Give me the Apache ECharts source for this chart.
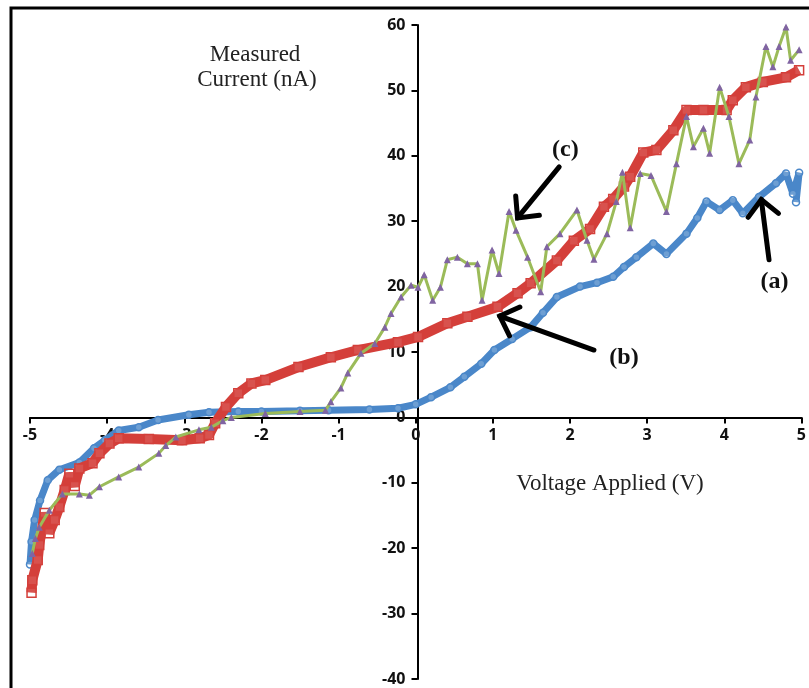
<!DOCTYPE html>
<html>
<head>
<meta charset="utf-8">
<script src="https://cdn.jsdelivr.net/npm/echarts@6/dist/echarts.min.js"></script>
<style>
html,body{margin:0;padding:0;background:#fff;}
#chart{width:809px;height:688px;}
</style>
</head>
<body>
<div id="chart"></div>
<script>
// (a) blue circles
var seriesA = [[-5.0,-22.5],[-4.98,-19],[-4.94,-15.7],[-4.87,-12.7],[-4.77,-9.6],[-4.62,-8],[-4.36,-6.9],[-4.17,-4.7],[-4.03,-3.5],[-3.85,-2],[-3.59,-1.5],[-3.34,-0.4],[-2.94,0.4],[-2.68,0.8],[-2.3,0.9],[-2.0,0.9],[-1.5,1.0],[-1.13,1.1],[-0.6,1.2],[-0.23,1.4],[0,2.0],[0.2,3.1],[0.45,4.6],[0.63,6.2],[0.85,8.2],[1.02,10.3],[1.25,12],[1.49,13.8],[1.65,16],[1.83,18.4],[2.13,20],[2.35,20.6],[2.56,21.5],[2.7,23],[2.86,24.5],[3.08,26.6],[3.25,25],[3.51,28.1],[3.65,30.5],[3.77,33],[3.94,31.7],[4.11,33.2],[4.24,31.2],[4.45,33.7],[4.67,35.8],[4.8,37.3],[4.89,34.2],[4.97,37.4],[4.93,32.9]];
// (b) red squares
var seriesB = [[-4.98,-26.8],[-4.97,-24.9],[-4.9,-21.8],[-4.88,-19.5],[-4.81,-14.6],[-4.75,-17.7],[-4.68,-15.7],[-4.62,-13.7],[-4.55,-11.1],[-4.49,-8.6],[-4.42,-10.5],[-4.36,-7.8],[-4.19,-7],[-4.1,-5.5],[-3.97,-4],[-3.85,-3.2],[-3.46,-3.3],[-3.03,-3.5],[-2.8,-3.2],[-2.68,-2.7],[-2.6,-0.9],[-2.46,1.6],[-2.3,3.7],[-2.13,5.2],[-1.95,5.7],[-1.52,7.7],[-1.1,9.2],[-0.75,10.3],[-0.23,11.5],[0.03,12.3],[0.41,14.4],[0.67,15.4],[1.06,16.9],[1.32,19],[1.49,20.5],[1.83,24],[2.05,27],[2.26,28.8],[2.44,32.2],[2.56,33.4],[2.7,35.3],[2.78,36.8],[2.95,40.5],[3.12,40.9],[3.34,43.9],[3.51,47],[3.73,47],[4.03,47],[4.11,48.5],[4.28,50.5],[4.5,51.3],[4.8,52],[4.97,53.1]];
// (c) purple triangles, green line
var seriesC = [[-4.97,-20.8],[-4.93,-18.5],[-4.88,-16.8],[-4.75,-14.2],[-4.58,-11.7],[-4.36,-11.7],[-4.23,-11.9],[-4.1,-10.6],[-3.85,-9.1],[-3.59,-7.6],[-3.33,-5.5],[-3.24,-4.3],[-3.11,-3],[-2.81,-1.9],[-2.65,-1.5],[-2.5,-0.5],[-2.39,0],[-1.95,0.6],[-1.5,0.9],[-1.17,1.1],[-1.1,2.4],[-0.97,4.5],[-0.88,6.8],[-0.71,9.8],[-0.53,11.3],[-0.4,13.8],[-0.32,15.9],[-0.19,18.4],[-0.06,20.2],[0.03,19.9],[0.11,21.8],[0.22,17.9],[0.32,19.9],[0.41,24.1],[0.54,24.5],[0.67,23.5],[0.8,23.5],[0.86,17.9],[0.99,25.6],[1.08,22],[1.21,31.5],[1.3,28.6],[1.45,24.5],[1.62,19.2],[1.7,26.1],[1.87,28.1],[2.09,31.7],[2.22,27.1],[2.31,24.2],[2.48,28.1],[2.6,33],[2.68,37.5],[2.78,29],[2.91,37.3],[3.05,37],[3.25,31.5],[3.38,38.8],[3.51,46],[3.6,41.4],[3.73,44.2],[3.81,40.4],[3.94,50.5],[4.06,46],[4.19,38.8],[4.33,42.4],[4.41,49],[4.54,56.7],[4.63,53.6],[4.71,56.7],[4.8,59.7],[4.86,54.6],[4.97,56.2]];

var xTicks = {min:-5, max:5, interval:1};
var yTicks = {min:-40, max:60, interval:10};

// annotation arrows in data coordinates
var annotations = [
  {label:'(a)', tail:[4.58,24.1], tip:[4.48,33.3], text:[4.65,20.8]},
  {label:'(b)', tail:[2.31,10.3], tip:[1.09,15.5], text:[2.70,9.1]},
  {label:'(c)', tail:[1.86,38.3], tip:[1.32,30.5], text:[1.94,40.9]}
];

var W = 809, H = 688;
var gridL = 30, gridR = 4, gridT = 25, gridB = 9;
var gw = W - gridL - gridR, gh = H - gridT - gridB;
// move axes so they cross at the origin (labels follow)
var yAxisOffset = -gw * (0 - xTicks.min) / (xTicks.max - xTicks.min);
var xAxisOffset = -gh * (0 - yTicks.min) / (yTicks.max - yTicks.min);

var chart = echarts.init(document.getElementById('chart'));
var blue = '#4a87c9', red = '#d43f3a', purple = '#8064a2', green = '#9bbb59';
var tickFont = {color:'#111', fontWeight:'bold', fontSize:16, fontFamily:'Open Sans'};

chart.setOption({
  animation:false,
  backgroundColor:'#fff',
  grid:{left:gridL, right:gridR, top:gridT, bottom:gridB, containLabel:false},
  xAxis:{type:'value', min:xTicks.min, max:xTicks.max, interval:xTicks.interval,
    position:'bottom', offset:xAxisOffset,
    axisLine:{onZero:false, lineStyle:{color:'#000', width:2}},
    axisTick:{show:true, length:6, lineStyle:{color:'#000', width:2}},
    axisLabel:Object.assign({margin:10}, tickFont),
    splitLine:{show:false}},
  yAxis:{type:'value', min:yTicks.min, max:yTicks.max, interval:yTicks.interval,
    position:'left', offset:yAxisOffset,
    axisLine:{show:true, onZero:false, lineStyle:{color:'#000', width:2}},
    axisTick:{show:true, length:6, lineStyle:{color:'#000', width:2}},
    axisLabel:Object.assign({margin:12}, tickFont),
    splitLine:{show:false}},
  series:[
    {name:'(a)', type:'line', data:seriesA, symbol:'circle', symbolSize:7,
      lineStyle:{color:blue, width:7}, itemStyle:{color:'rgba(255,255,255,0.2)', borderColor:blue, borderWidth:1.5}, z:2},
    {name:'(b)', type:'line', data:seriesB, symbol:'rect', symbolSize:9,
      lineStyle:{color:red, width:10}, itemStyle:{color:'rgba(255,255,255,0.1)', borderColor:red, borderWidth:1.5}, z:3},
    {name:'(c)', type:'line', data:seriesC, symbol:'triangle', symbolSize:7,
      lineStyle:{color:green, width:3}, itemStyle:{color:purple}, z:4}
  ]
});

function extraGraphics(){
  var els = [];
  els.push({type:'rect', shape:{x:11, y:8, width:820, height:700}, style:{fill:null, stroke:'#000', lineWidth:3}, silent:true});
  var tf = '23px "Liberation Serif"';
  els.push({type:'text', x:255, y:55, style:{text:'Measured', font:tf, fill:'#222', align:'center', verticalAlign:'middle'}});
  els.push({type:'text', x:257, y:80, style:{text:'Current (nA)', font:tf, fill:'#222', align:'center', verticalAlign:'middle'}});
  els.push({type:'text', x:610, y:484, style:{text:'Voltage Applied (V)', font:tf, fill:'#222', align:'center', verticalAlign:'middle'}});
  annotations.forEach(function(a){
    var t = chart.convertToPixel({gridIndex:0}, a.tail);
    var p = chart.convertToPixel({gridIndex:0}, a.tip);
    var l = chart.convertToPixel({gridIndex:0}, a.text);
    var ang = Math.atan2(t[1]-p[1], t[0]-p[0]);
    var len = 22, spread = 44*Math.PI/180;
    var w1 = [p[0]+len*Math.cos(ang+spread), p[1]+len*Math.sin(ang+spread)];
    var w2 = [p[0]+len*Math.cos(ang-spread), p[1]+len*Math.sin(ang-spread)];
    els.push({type:'line', shape:{x1:t[0], y1:t[1], x2:p[0], y2:p[1]}, style:{stroke:'#000', lineWidth:5, lineCap:'round'}, z:10});
    els.push({type:'polyline', shape:{points:[w1, p, w2]}, style:{stroke:'#000', lineWidth:5, fill:null, lineCap:'round', lineJoin:'miter'}, z:10});
    els.push({type:'text', x:l[0], y:l[1], style:{text:a.label, font:'bold 24px "Liberation Serif"', fill:'#111', align:'center', verticalAlign:'middle'}, z:10});
  });
  return els;
}
chart.setOption({graphic:extraGraphics()});
</script>
</body>
</html>
